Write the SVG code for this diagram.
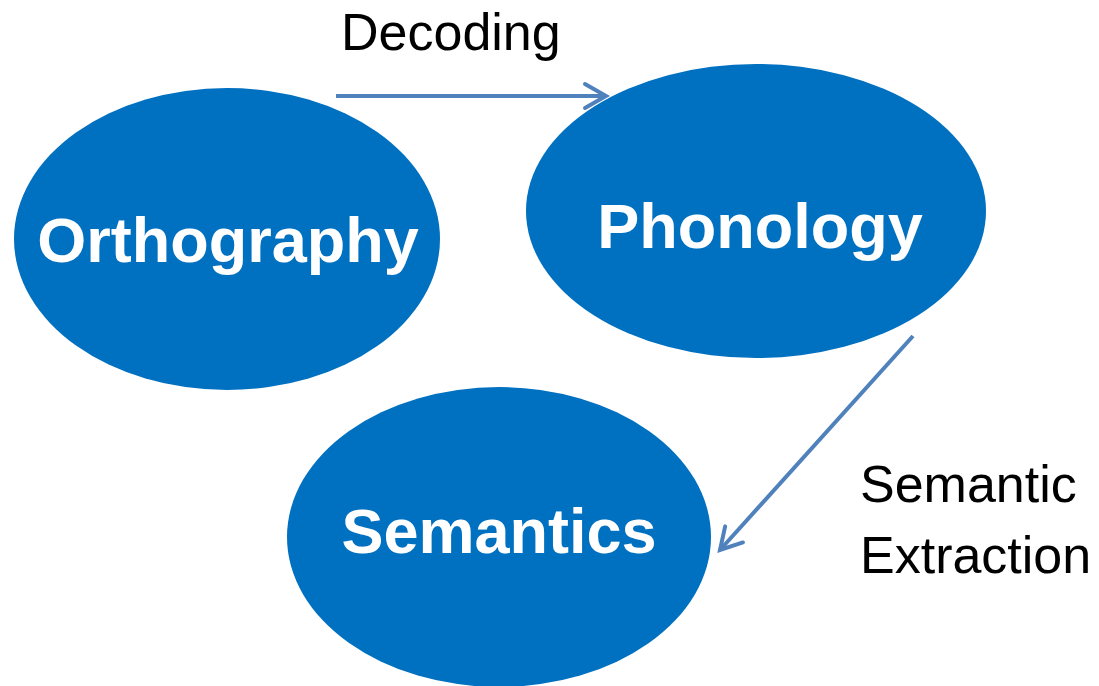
<svg xmlns="http://www.w3.org/2000/svg" width="1099" height="686" viewBox="0 0 1099 686">
<style>
.node{fill:#0070c0}
.nt{font-family:"Liberation Sans",Arial,sans-serif;font-weight:bold;font-size:63px;fill:#fff;text-anchor:middle}
.lbl{font-family:"Liberation Sans",Arial,sans-serif;font-size:52px;fill:#000}
.edge{stroke:#4f81bd;stroke-width:4;fill:none}
</style>
<defs>
<marker id="arr" markerWidth="12" markerHeight="12" refX="9" refY="6" orient="auto" markerUnits="userSpaceOnUse" viewBox="0 0 12 12" overflow="visible">
<path d="M-12,-6 L9,6 L-12,18" fill="none" stroke="#4f81bd" stroke-width="4" stroke-linecap="round" stroke-linejoin="miter"/>
</marker>
</defs>
<rect width="1099" height="686" fill="#fff"/>
<g id="orthography">
<ellipse class="node" cx="227" cy="239" rx="213" ry="151"/>
<text class="nt" x="228" y="262">Orthography</text>
</g>
<g id="phonology">
<ellipse class="node" cx="756" cy="211" rx="230" ry="147"/>
<text class="nt" x="760" y="248">Phonology</text>
</g>
<g id="semantics">
<ellipse class="node" cx="499" cy="537" rx="212" ry="150"/>
<text class="nt" x="499" y="553">Semantics</text>
</g>
<g id="connectors">
<line class="edge" x1="336" y1="96" x2="606" y2="96" marker-end="url(#arr)"/>
<line class="edge" x1="913" y1="336" x2="720" y2="550" marker-end="url(#arr)"/>
</g>
<g id="labels">
<text class="lbl" x="341" y="50">Decoding</text>
<text class="lbl" x="860" y="502">Semantic</text>
<text class="lbl" x="860" y="573">Extraction</text>
</g>
</svg>
